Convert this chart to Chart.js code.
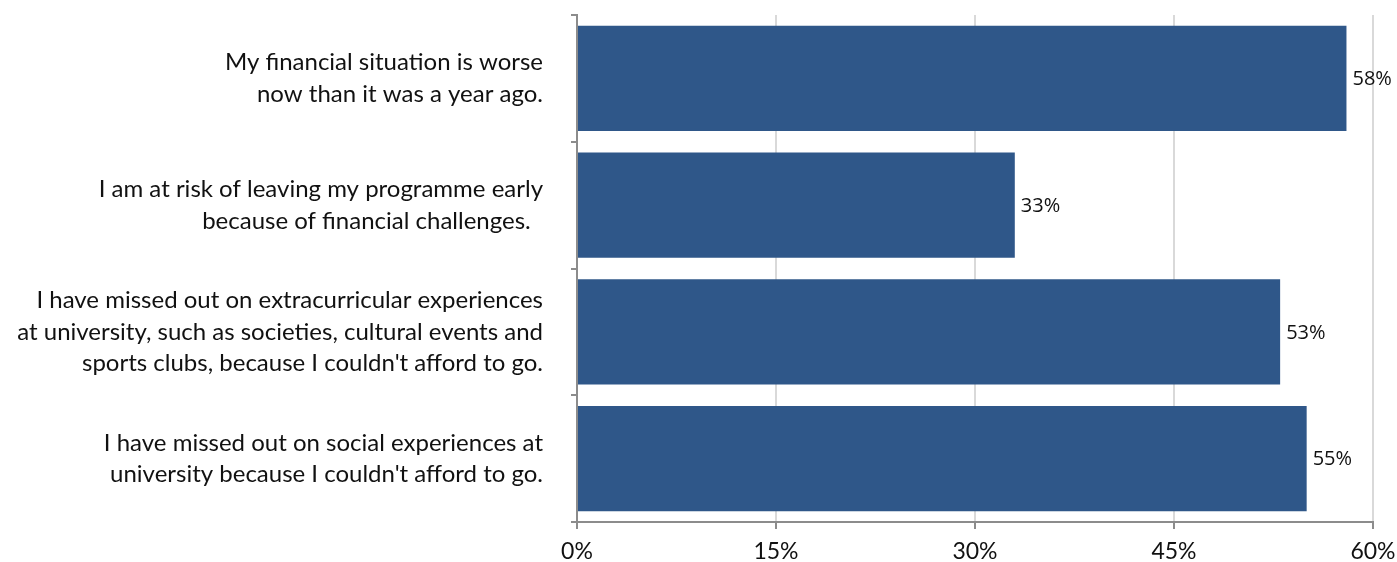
<!DOCTYPE html>
<html>
<head>
<meta charset="utf-8">
<script src="https://cdn.jsdelivr.net/npm/chart.js@4"></script>
<style>
  html, body { margin: 0; padding: 0; background: #fff; }
  #wrap { width: 1397px; height: 562px; position: relative; }
</style>
</head>
<body>
<div id="wrap"><canvas id="chart"></canvas></div>
<script>
// Kategoriler (satır satır), değerler ve eksen etiketleri
const categories = [
    ['My financial situation is worse', 'now than it was a year ago.'],
    ['I am at risk of leaving my programme early', 'because of financial challenges.  '],
    ['I have missed out on extracurricular experiences', 'at university, such as societies, cultural events and', 'sports clubs, because I couldn\'t afford to go.'],
    ['I have missed out on social experiences at', 'university because I couldn\'t afford to go.']
];
const values = [58, 33, 53, 55];
const xTicks = [0, 15, 30, 45, 60];

const barColor = '#2f5789';
const axisGray = '#8c8c8c';

// Çubuk sonuna yüzde değerini yaz
const valueLabels = {
    id: 'valueLabels',
    afterDatasetsDraw(chart) {
        const ctx = chart.ctx;
        const meta = chart.getDatasetMeta(0);
        ctx.save();
        ctx.font = '20px "Open Sans"';
        ctx.fillStyle = '#111';
        ctx.textAlign = 'left';
        ctx.textBaseline = 'middle';
        meta.data.forEach((bar, i) => {
            ctx.fillText(values[i] + '%', bar.x + 6, bar.y + 1);
        });
        ctx.restore();
    }
};

new Chart(document.getElementById('chart'), {
    type: 'bar',
    data: {
        labels: categories,
        datasets: [{
            data: values,
            backgroundColor: barColor,
            borderWidth: 0,
            barPercentage: 0.83,
            categoryPercentage: 1
        }]
    },
    options: {
        indexAxis: 'y',
        responsive: true,
        maintainAspectRatio: false,
        animation: false,
        layout: { padding: { top: 15, right: 24, left: 0, bottom: 0 } },
        plugins: {
            legend: { display: false },
            tooltip: { enabled: false }
        },
        scales: {
            x: {
                min: 0,
                max: 60,
                afterBuildTicks: axis => { axis.ticks = xTicks.map(v => ({ value: v })); },
                afterFit: axis => {
                    axis.height = 40;
                    axis.paddingLeft = 0;
                    axis.paddingRight = 0;
                },
                border: { color: axisGray, width: 2 },
                grid: {
                    color: '#d9d9d9',
                    lineWidth: 2,
                    tickColor: axisGray,
                    tickLength: 7,
                    drawTicks: true
                },
                ticks: {
                    callback: v => v + '%',
                    color: '#111',
                    padding: 9,
                    maxRotation: 0,
                    font: { family: 'Lato', size: 23 }
                }
            },
            y: {
                afterFit: axis => {
                    axis.width = 577;
                    axis.paddingTop = 0;
                    axis.paddingBottom = 0;
                },
                border: { color: axisGray, width: 2 },
                grid: {
                    offset: true,
                    drawOnChartArea: false,
                    color: axisGray,
                    lineWidth: 2,
                    tickLength: 6
                },
                ticks: {
                    color: '#111',
                    padding: 28,
                    font: { family: 'Lato', size: 24, lineHeight: 1.32 }
                }
            }
        }
    },
    plugins: [valueLabels]
});
</script>
</body>
</html>
